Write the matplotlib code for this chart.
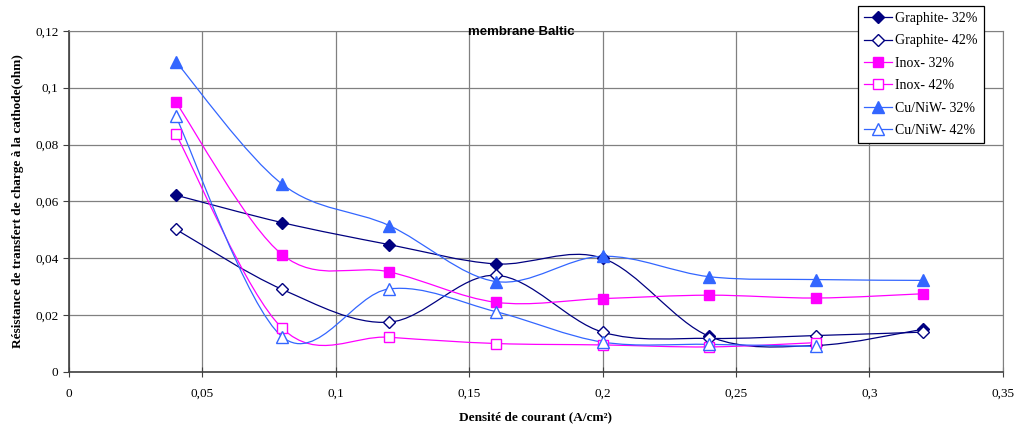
import matplotlib
matplotlib.use("Agg")
import matplotlib.pyplot as plt
import numpy as np
from matplotlib.path import Path
from matplotlib.patches import PathPatch
from matplotlib.lines import Line2D
from matplotlib.ticker import FuncFormatter

# densité de courant (A/cm²)
x = [0.04, 0.08, 0.12, 0.16, 0.20, 0.24, 0.28, 0.32]

graphite_32 = [0.0622, 0.0525, 0.0448, 0.0380, 0.0400, 0.0125, 0.0093, 0.0150]
graphite_42 = [0.0502, 0.0290, 0.0175, 0.0340, 0.0140, 0.0118, 0.0128, 0.0140]
inox_32 = [0.0950, 0.0412, 0.0352, 0.0245, 0.0258, 0.0270, 0.0260, 0.0275]
inox_42 = [0.0838, 0.0153, 0.0122, 0.0100, 0.0095, 0.0088, 0.0103]
cunw_32 = [0.1092, 0.0660, 0.0515, 0.0318, 0.0407, 0.0335, 0.0325, 0.0322]
cunw_42 = [0.0900, 0.0123, 0.0292, 0.0212, 0.0105, 0.0097, 0.0090]

series = [
    ("Graphite- 32%", graphite_32, "#000080", "D", "#000080"),
    ("Graphite- 42%", graphite_42, "#000080", "D", "white"),
    ("Inox- 32%", inox_32, "#FF00FF", "s", "#FF00FF"),
    ("Inox- 42%", inox_42, "#FF00FF", "s", "white"),
    ("Cu/NiW- 32%", cunw_32, "#3366FF", "^", "#3366FF"),
    ("Cu/NiW- 42%", cunw_42, "#3366FF", "^", "white"),
]


def smooth_path(xs, ys):
    # courbe lissée façon Excel (bezier entre les points)
    p = np.column_stack([xs, ys])
    verts = [p[0]]
    codes = [Path.MOVETO]
    n = len(p)
    for i in range(n - 1):
        p0 = p[i - 1] if i > 0 else p[i]
        p3 = p[i + 2] if i + 2 < n else p[i + 1]
        c1 = p[i] + (p[i + 1] - p0) / 6
        c2 = p[i + 1] - (p3 - p[i]) / 6
        verts += [c1, c2, p[i + 1]]
        codes += [Path.CURVE4] * 3
    return Path(verts, codes)


fig = plt.figure(figsize=(10.14, 4.28), dpi=100)
ax = fig.add_axes([0.068, 0.131, 0.921, 0.797])

handles = []
for label, ys, col, mk, fc in series:
    xs = x[:len(ys)]
    ax.add_patch(PathPatch(smooth_path(xs, ys), fill=False, edgecolor=col, lw=0.9))
    ms = 7
    if mk == "^":
        ms = 8.5
    if mk == "D":
        ms = 6.5
    ax.plot(xs, ys, linestyle="None", marker=mk, markersize=ms,
            markerfacecolor=fc, markeredgecolor=col, markeredgewidth=1.0)
    handles.append(Line2D([], [], color=col, lw=0.9, marker=mk, markersize=ms,
                          markerfacecolor=fc, markeredgecolor=col, label=label))

ax.set_xlim(0, 0.35)
ax.set_ylim(0, 0.12)
ax.set_xticks(np.arange(0, 0.351, 0.05))
ax.set_yticks(np.arange(0, 0.121, 0.02))
fmt = FuncFormatter(lambda v, p: ("%g" % round(v, 4)).replace(".", ","))
ax.xaxis.set_major_formatter(fmt)
ax.yaxis.set_major_formatter(fmt)
ax.grid(True, color="#808080", lw=0.9)
ax.set_axisbelow(True)
for s in ["top", "right"]:
    ax.spines[s].set_color("#808080")
for s in ["left", "bottom"]:
    ax.spines[s].set_color("#404040")
    ax.spines[s].set_linewidth(1.2)
ax.tick_params(axis="x", direction="inout", length=7, pad=8, labelsize=9.5, colors="#404040", labelcolor="black")
ax.tick_params(axis="y", direction="out", length=4, labelsize=9.5, colors="#404040", labelcolor="black")
for t in ax.get_xticklabels() + ax.get_yticklabels():
    t.set_family("Liberation Serif")

ax.set_xlabel("Densité de courant (A/cm²)", family="Liberation Serif", fontweight="bold", fontsize=9.5, labelpad=8)
ax.set_ylabel("Résistance de transfert de charge à la cathode(ohm)", family="Liberation Serif", fontweight="bold", fontsize=9.5, labelpad=8)
fig.text(0.514, 0.925, "membrane Baltic", family="Liberation Sans", fontweight="bold", fontsize=9.5, ha="center", va="center")

leg = fig.legend(handles=handles, loc="upper left", bbox_to_anchor=(0.843, 0.993),
                 prop={"family": "Liberation Serif", "size": 10}, frameon=True,
                 fancybox=False, shadow=False, borderpad=0.45, labelspacing=0.68,
                 handlelength=2.0, handletextpad=0.25, borderaxespad=0.2, framealpha=1)
leg.get_frame().set_edgecolor("black")
leg.get_frame().set_linewidth(0.9)

fig.savefig("out.png", dpi=100)
